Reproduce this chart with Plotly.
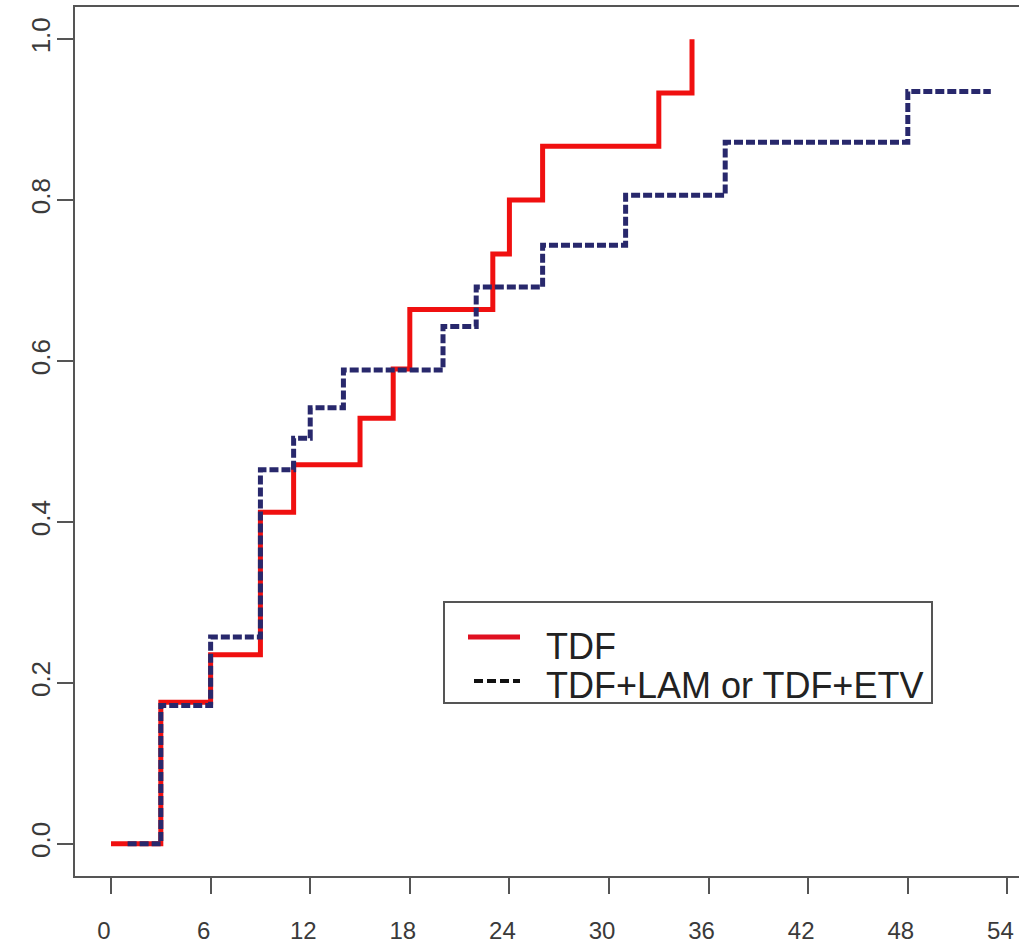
import plotly.graph_objects as go

# Kaplan-Meier style cumulative curves (months, cumulative proportion)
tdf_time = [0, 3, 6, 9, 11, 15, 17, 18, 23, 24, 26, 33, 35]
tdf_prob = [0.0, 0.176, 0.235, 0.412, 0.471, 0.529, 0.590, 0.664, 0.733, 0.800, 0.867, 0.933, 1.000]

combo_time = [1, 3, 6, 9, 11, 12, 14, 20, 22, 26, 31, 37, 48, 53]
combo_prob = [0.0, 0.172, 0.257, 0.465, 0.504, 0.542, 0.589, 0.643, 0.692, 0.744, 0.806, 0.872, 0.935, 0.935]

x_ticks = [0, 6, 12, 18, 24, 30, 36, 42, 48, 54]
y_ticks = [0.0, 0.2, 0.4, 0.6, 0.8, 1.0]
y_tick_labels = ["0.0", "0.2", "0.4", "0.6", "0.8", "1.0"]

legend_labels = ["TDF", "TDF+LAM or TDF+ETV"]

W, H = 1019, 947
ML, MR, MT, MB = 75, 0, 7, 71

fig = go.Figure()
fig.add_trace(go.Scatter(
    x=tdf_time, y=tdf_prob, mode="lines", line_shape="hv",
    line=dict(color="#f01010", width=5), name=legend_labels[0], showlegend=False))
fig.add_trace(go.Scatter(
    x=combo_time, y=combo_prob, mode="lines", line_shape="hv",
    line=dict(color="#28286c", width=5, dash="9px,3px"), name=legend_labels[1], showlegend=False))

pw = W - ML - MR
ph = H - MT - MB
def px(xp):
    return (xp - ML) / pw
def py(yp):
    return (H - MB - yp) / ph

# legend box (drawn manually to mimic base-R legend)
fig.add_shape(type="rect", xref="paper", yref="paper",
              x0=px(444), x1=px(932), y0=py(703), y1=py(602),
              line=dict(color="#555555", width=2), fillcolor="white", layer="above")
fig.add_shape(type="line", xref="paper", yref="paper",
              x0=px(468), x1=px(520), y0=py(637), y1=py(637),
              line=dict(color="#e01020", width=5))
fig.add_shape(type="line", xref="paper", yref="paper",
              x0=px(474), x1=px(520), y0=py(681), y1=py(681),
              line=dict(color="#111111", width=4, dash="9px,4px"))
for lab, yy in zip(legend_labels, [646, 685]):
    fig.add_annotation(text=lab, xref="paper", yref="paper", x=px(544), y=py(yy),
                       xanchor="left", yanchor="middle", showarrow=False,
                       font=dict(family="Liberation Sans, Arial", size=36, color="#222222"))

fig.update_layout(
    width=W, height=H,
    margin=dict(l=ML, r=MR, t=MT, b=MB),
    paper_bgcolor="white", plot_bgcolor="white",
    font=dict(family="Liberation Sans, Arial", color="#3a3a3a"),
    xaxis=dict(range=[-2.17, (1019 - 111) / 16.6], tickvals=x_ticks,
               showgrid=False, zeroline=False, showline=True, mirror=True,
               linecolor="#555555", linewidth=2, ticks="outside", ticklen=16,
               tickwidth=2, tickcolor="#555555", tickfont=dict(size=24),
               ticklabelstandoff=16, ticklabelshift=-7, ticklabeloverflow="allow"),
    yaxis=dict(range=[-0.04, 1.04], tickvals=y_ticks, ticktext=y_tick_labels,
               showgrid=False, zeroline=False, showline=True, mirror=False,
               linecolor="#555555", linewidth=2, ticks="outside", ticklen=16,
               tickwidth=2, tickcolor="#555555", tickfont=dict(size=26),
               tickangle=-90, ticklabelstandoff=-3),
)

fig.write_html("out.html", config={"displayModeBar": False},
               post_script="document.body.style.margin='0';")
